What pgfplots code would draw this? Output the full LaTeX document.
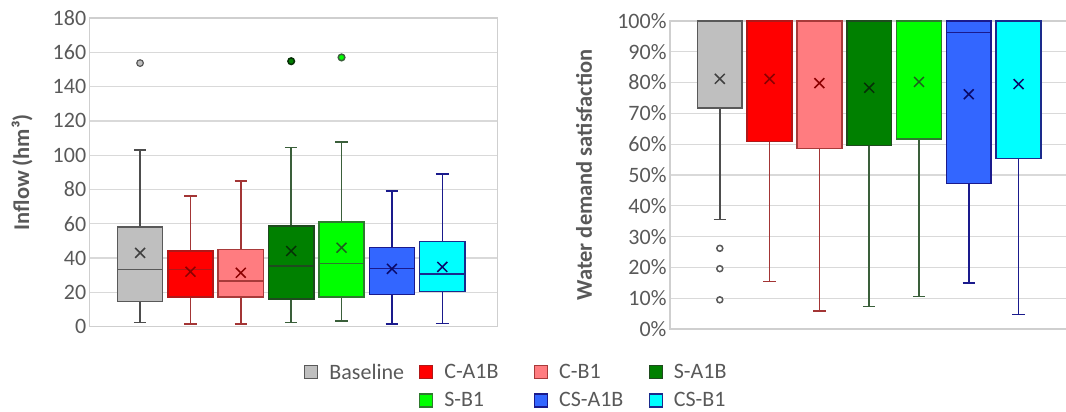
\documentclass[border=0pt]{standalone}
\usepackage{fontspec}
\setmainfont{Carlito}
\usepackage{pgfplots}
\pgfplotsset{compat=1.18}
\usepgfplotslibrary{statistics}

\definecolor{textgray}{HTML}{595959}
\definecolor{gridgray}{HTML}{D9D9D9}
\definecolor{framegray}{HTML}{CFCFCF}
% fills
\definecolor{fBase}{HTML}{BFBFBF}
\definecolor{fCA}{HTML}{FF0000}
\definecolor{fCB}{HTML}{FF7C80}
\definecolor{fSA}{HTML}{008000}
\definecolor{fSB}{HTML}{00FF00}
\definecolor{fCSA}{HTML}{3366FF}
\definecolor{fCSB}{HTML}{00FFFF}
% edges
\definecolor{eBase}{HTML}{595959}
\definecolor{eCA}{HTML}{B01818}
\definecolor{eCB}{HTML}{A83A3A}
\definecolor{eSA}{HTML}{1F4A1F}
\definecolor{eSB}{HTML}{2E7A2E}
\definecolor{eCSA}{HTML}{1A1A8C}
\definecolor{eCSB}{HTML}{1A2A8C}
% whiskers
\definecolor{wBase}{HTML}{4D4D4D}
\definecolor{wC}{HTML}{A33535}
\definecolor{wS}{HTML}{3A5F3A}
\definecolor{wCS}{HTML}{1A1A8C}
% means
\definecolor{mBase}{HTML}{404040}
\definecolor{mC}{HTML}{8B0000}
\definecolor{mSA}{HTML}{062F06}
\definecolor{mSB}{HTML}{1E5E1E}
\definecolor{mCS}{HTML}{0A0A6A}

\pgfplotsset{
  bx/.style n args={3}{
    draw=#2, line width=1.5pt, forget plot,
    mark=*, mark size=3.3pt, mark options={fill=#1, draw=#2, line width=1.2pt},
    boxplot/every box/.style={fill=#1, draw=#2, line width=1.5pt},
    boxplot/every whisker/.style={draw=#3, line width=1.5pt},
    boxplot/every median/.style={draw=#2, line width=1.5pt},
  },
  mn/.style={only marks, mark=x, mark size=7pt, forget plot,
    mark options={draw=#1, line width=1.5pt}},
  common/.style={
    scale only axis, anchor=south west, clip=false,
    xtick=\empty, major tick length=0pt,
    ymajorgrids, grid style={draw=gridgray, line width=1.3pt},
    axis line style={draw=framegray, line width=1.5pt},
    tick label style={font=\fontsize{22}{26}\selectfont, text=textgray},
    label style={font=\fontsize{22.5}{27}\selectfont\bfseries, text=textgray},
    /pgf/number format/assume math mode=true,
    boxplot/draw direction=y,
    boxplot/box extend=0.9, boxplot/whisker extend=0.25,
  },
}

\begin{document}
\begin{tikzpicture}[x=1pt,y=1pt]
\useasboundingbox (0,0) rectangle (1066,412);
% ---------------- Left: Inflow ----------------
\begin{axis}[common,
  at={(89.7pt,85.4pt)}, width=408pt, height=308.6pt,
  xmin=0, xmax=8.1, ymin=0, ymax=180, ytick={0,20,...,180},
  ylabel={Inflow (hm³)},
  ylabel style={at={(axis description cs:-0.166,0.5)}, anchor=center},
  legend columns=4,
  legend cell align=left,
  legend image code/.code={\draw[#1] (0pt,-6.5pt) rectangle (13pt,6.5pt);},
  legend style={at={(axis description cs:0.5252,-0.1197)}, anchor=north west,
    draw=none, fill=none, inner sep=0pt, row sep=12pt,
    font=\fontsize{22}{26}\selectfont,
    nodes={inner sep=0pt, text=textgray},
    /tikz/every odd column/.append style={column sep=11pt},
    /tikz/every even column/.append style={column sep=9.5pt}},
]
\addplot[bx={fBase}{eBase}{wBase}, boxplot prepared={draw position=1,
  lower whisker=2.5, lower quartile=14.5, median=33.3, upper quartile=58, upper whisker=103}]
  table[row sep=\\, y index=0] {data\\ 153.7\\};
\addplot[bx={fCA}{eCA}{wC}, boxplot prepared={draw position=2,
  lower whisker=1.4, lower quartile=17.4, median=33.3, upper quartile=44.1, upper whisker=76.3}]
  coordinates {};
\addplot[bx={fCB}{eCB}{wC}, boxplot prepared={draw position=3,
  lower whisker=1.4, lower quartile=17.4, median=26.7, upper quartile=44.9, upper whisker=85}]
  coordinates {};
\addplot[bx={fSA}{eSA}{wS}, mark options={fill=fSA, draw=mSA}, boxplot prepared={draw position=4,
  lower whisker=2.5, lower quartile=16, median=35.4, upper quartile=58.6, upper whisker=104.5}]
  table[row sep=\\, y index=0] {data\\ 154.8\\};
\addplot[bx={fSB}{eSB}{wS}, mark options={fill=fSB, draw=wS}, boxplot prepared={draw position=5,
  lower whisker=3.3, lower quartile=17.4, median=36.8, upper quartile=61, upper whisker=107.6}]
  table[row sep=\\, y index=0] {data\\ 157\\};
\addplot[bx={fCSA}{eCSA}{wCS}, boxplot prepared={draw position=6,
  lower whisker=1.4, lower quartile=18.8, median=34, upper quartile=46, upper whisker=79}]
  coordinates {};
\addplot[bx={fCSB}{eCSB}{wCS}, boxplot prepared={draw position=7,
  lower whisker=1.9, lower quartile=20.5, median=30.8, upper quartile=49.5, upper whisker=89}]
  coordinates {};
% means
\addplot[mn=mBase] coordinates {(1,43)};
\addplot[mn=mC] coordinates {(2,32) (3,31.4)};
\addplot[mn=mSA] coordinates {(4,44.1)};
\addplot[mn=mSB] coordinates {(5,46)};
\addplot[mn=mCS] coordinates {(6,33.7) (7,34.8)};
% legend
\addlegendimage{fill=fBase, draw=eBase, line width=1.3pt}
\addlegendentry{\makebox[80pt][l]{Baseline}}
\addlegendimage{fill=fCA, draw=eCA, line width=1.3pt}
\addlegendentry{\makebox[80pt][l]{C-A1B}}
\addlegendimage{fill=fCB, draw=eCB, line width=1.3pt}
\addlegendentry{\makebox[80pt][l]{C-B1}}
\addlegendimage{fill=fSA, draw=eSA, line width=1.3pt}
\addlegendentry{\makebox[80pt][l]{S-A1B}}
\addlegendimage{empty legend}
\addlegendentry{}
\addlegendimage{fill=fSB, draw=eSB, line width=1.3pt}
\addlegendentry{\makebox[80pt][l]{S-B1}}
\addlegendimage{fill=fCSA, draw=eCSA, line width=1.3pt}
\addlegendentry{\makebox[80pt][l]{CS-A1B}}
\addlegendimage{fill=fCSB, draw=eCSB, line width=1.3pt}
\addlegendentry{\makebox[80pt][l]{CS-B1}}
\end{axis}
% ---------------- Right: Water demand satisfaction ----------------
\begin{axis}[common,
  at={(670pt,82.9pt)}, width=398.4pt, height=308.2pt,
  xmin=0, xmax=8, ymin=0, ymax=100, ytick={0,10,...,100},
  yticklabel={\pgfmathprintnumber{\tick}\%},
  ylabel={Water demand satisfaction},
  ylabel style={at={(axis description cs:-0.216,0.5)}, anchor=center},
]
\addplot[bx={fBase}{eBase}{wBase}, mark options={fill=white, draw=eBase}, mark size=3pt,
  boxplot prepared={draw position=1,
  lower whisker=35.6, lower quartile=71.8, median=100, upper quartile=100, upper whisker=100}]
  table[row sep=\\, y index=0] {data\\ 26.2\\ 19.6\\ 9.5\\};
\addplot[bx={fCA}{eCA}{wC}, boxplot prepared={draw position=2,
  lower whisker=15.5, lower quartile=60.9, median=100, upper quartile=100, upper whisker=100}]
  coordinates {};
\addplot[bx={fCB}{eCB}{wC}, boxplot prepared={draw position=3,
  lower whisker=5.8, lower quartile=58.6, median=100, upper quartile=100, upper whisker=100}]
  coordinates {};
\addplot[bx={fSA}{eSA}{wS}, boxplot prepared={draw position=4,
  lower whisker=7.4, lower quartile=59.5, median=100, upper quartile=100, upper whisker=100.2}]
  coordinates {};
\addplot[bx={fSB}{eSB}{wS}, boxplot prepared={draw position=5,
  lower whisker=10.5, lower quartile=61.6, median=100, upper quartile=100, upper whisker=100}]
  coordinates {};
\addplot[bx={fCSA}{eCSA}{wCS}, boxplot prepared={draw position=6,
  lower whisker=14.9, lower quartile=47.3, median=96.3, upper quartile=100, upper whisker=100}]
  coordinates {};
\addplot[bx={fCSB}{eCSB}{wCS}, boxplot prepared={draw position=7,
  lower whisker=4.8, lower quartile=55.4, median=100, upper quartile=100, upper whisker=100}]
  coordinates {};
\addplot[mn=mBase] coordinates {(1,81.2)};
\addplot[mn=mC] coordinates {(2,81.2) (3,79.8)};
\addplot[mn=mSA] coordinates {(4,78.3)};
\addplot[mn=mSB] coordinates {(5,80.2)};
\addplot[mn=mCS] coordinates {(6,76.2) (7,79.5)};
\end{axis}
\end{tikzpicture}
\end{document}
